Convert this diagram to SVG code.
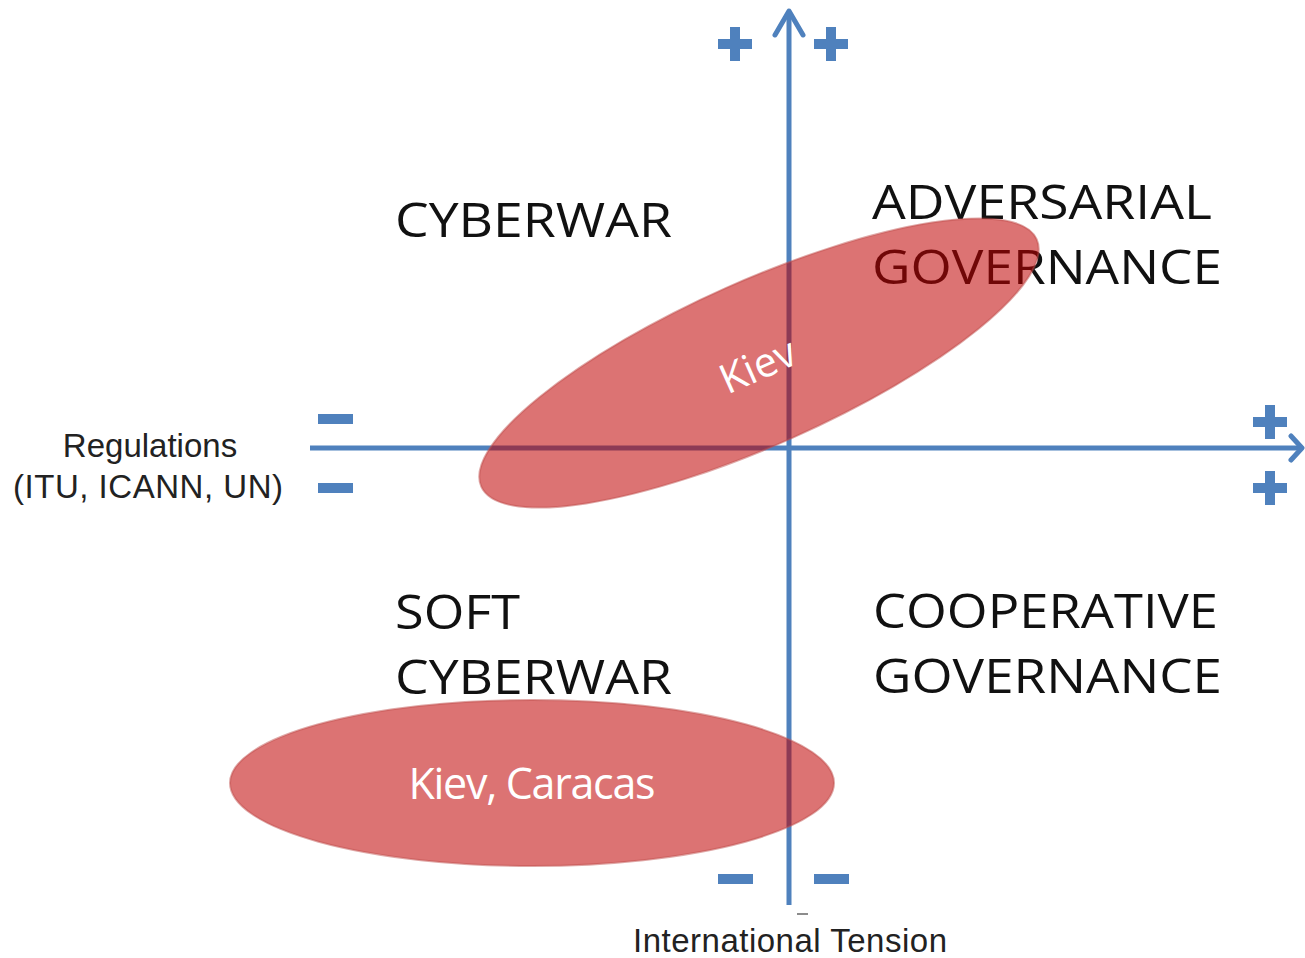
<svg xmlns="http://www.w3.org/2000/svg" width="1305" height="958" viewBox="0 0 1305 958">
<style>
.axis{stroke:#4f81bd;stroke-width:5;fill:none}
.sign{fill:#4f81bd}
.quad{font-family:"Open Sans","Liberation Sans",sans-serif;font-size:47px;fill:#111}
.lbl{font-family:"Liberation Sans",Arial,sans-serif;font-size:33px;fill:#222}
.blob{fill:#c00000;fill-opacity:0.55;stroke:#c0504d;stroke-opacity:0.5;stroke-width:2}
.blobtxt{font-family:"Open Sans","Liberation Sans",sans-serif;fill:#fff}
</style>
<rect width="1305" height="958" fill="#fff"/>
<g id="connectors">
<line class="axis" x1="789" y1="905" x2="789" y2="12"/>
<polyline class="axis" points="775,35 789,11 803,35" stroke-linejoin="round" stroke-linecap="round"/>
<line class="axis" x1="310" y1="448" x2="1301" y2="448"/>
<polyline class="axis" points="1291,436 1302,448 1291,460" stroke-linejoin="round" stroke-linecap="round"/>
<line x1="797" y1="914" x2="808" y2="914" stroke="#666" stroke-width="1.5"/>
</g>
<g id="signs">
<path class="sign" d="M718,39h12v-12h10v12h12v10h-12v12h-10v-12h-12z"/>
<path class="sign" d="M814,39h12v-12h10v12h12v10h-12v12h-10v-12h-12z"/>
<path class="sign" d="M1253,417h12v-12h10v12h12v10h-12v12h-10v-12h-12z"/>
<path class="sign" d="M1253,483h12v-12h10v12h12v10h-12v12h-10v-12h-12z"/>
<rect class="sign" x="318" y="414" width="35" height="10"/>
<rect class="sign" x="318" y="483" width="35" height="10"/>
<rect class="sign" x="718" y="874" width="35" height="10"/>
<rect class="sign" x="814" y="874" width="35" height="10"/>
</g>
<g id="quadrant-cyberwar"><text class="quad" x="395" y="237" textLength="277" lengthAdjust="spacingAndGlyphs">CYBERWAR</text></g>
<g id="quadrant-adversarial">
<text class="quad" x="872" y="219" textLength="340" lengthAdjust="spacingAndGlyphs">ADVERSARIAL</text>
<text class="quad" x="872" y="284" textLength="350" lengthAdjust="spacingAndGlyphs">GOVERNANCE</text>
</g>
<g id="quadrant-soft">
<text class="quad" x="395" y="629" textLength="125" lengthAdjust="spacingAndGlyphs">SOFT</text>
<text class="quad" x="395" y="694" textLength="277" lengthAdjust="spacingAndGlyphs">CYBERWAR</text>
</g>
<g id="quadrant-cooperative">
<text class="quad" x="873" y="628" textLength="345" lengthAdjust="spacingAndGlyphs">COOPERATIVE</text>
<text class="quad" x="873" y="693" textLength="349" lengthAdjust="spacingAndGlyphs">GOVERNANCE</text>
</g>
<g id="axis-regulations">
<text class="lbl" x="150" y="457" text-anchor="middle">Regulations</text>
<text class="lbl" x="148" y="498" text-anchor="middle" textLength="270">(ITU, ICANN, UN)</text>
</g>
<g id="axis-tension"><text class="lbl" x="790" y="952" text-anchor="middle" textLength="314">International Tension</text></g>
<g id="blob-kiev">
<ellipse class="blob" cx="759" cy="363" rx="304" ry="82" transform="rotate(-24 759 363)"/>
<text class="blobtxt" x="758" y="380" font-size="41" text-anchor="middle" transform="rotate(-24 758 366)">Kiev</text>
</g>
<g id="blob-kiev-caracas">
<ellipse class="blob" cx="532" cy="783" rx="302" ry="83"/>
<text class="blobtxt" x="532" y="799" font-size="43" text-anchor="middle" textLength="247">Kiev, Caracas</text>
</g>
</svg>
